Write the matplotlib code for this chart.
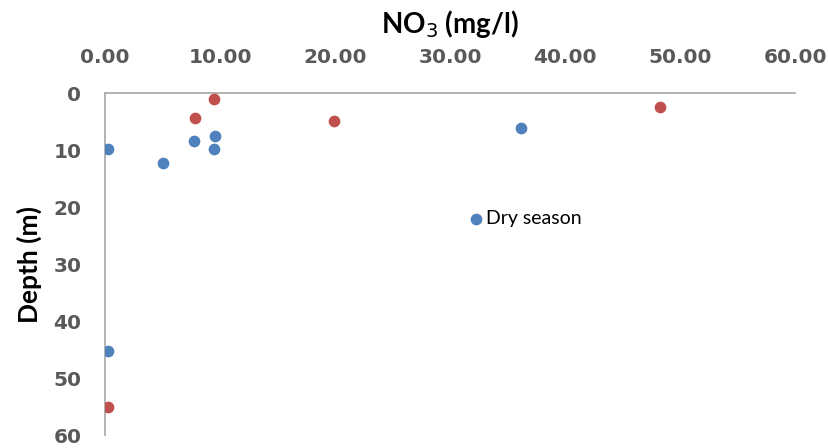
import matplotlib
matplotlib.use("Agg")
import matplotlib.pyplot as plt
from matplotlib.ticker import FormatStrFormatter

# dry season samples (blue)
dry_no3 = [0.3, 5.0, 7.7, 9.6, 9.5, 36.2, 32.3, 0.3]
dry_depth = [9.8, 12.3, 8.4, 7.5, 9.8, 6.1, 22.1, 45.3]

# wet season samples (red)
wet_no3 = [9.5, 7.8, 19.9, 48.3, 0.3]
wet_depth = [1.1, 4.4, 4.9, 2.5, 55.1]

x_ticks = [0, 10, 20, 30, 40, 50, 60]
y_ticks = [0, 10, 20, 30, 40, 50, 60]

blue = '#4F81BD'
red = '#C0504D'
grey = '#595959'

fig = plt.figure(figsize=(8.29, 4.48), dpi=100)
ax = fig.add_axes([0.1267, 0.029, 0.8323, 0.7634])

ax.scatter(dry_no3, dry_depth, s=55, color=blue, zorder=3, label='Dry season')
ax.scatter(wet_no3, wet_depth, s=55, color=red, zorder=3, label='Wet season')

# data label on one dry season point
ax.annotate('Dry season', (dry_no3[6], dry_depth[6]), xytext=(7, 0),
            textcoords='offset points', va='center', ha='left',
            fontsize=14, family='Lato', color='black')

ax.set_xlim(0, 60)
ax.set_ylim(60, 0)
ax.set_xticks(x_ticks)
ax.set_yticks(y_ticks)
ax.xaxis.set_major_formatter(FormatStrFormatter('%.2f'))
ax.xaxis.tick_top()
ax.xaxis.set_label_position('top')

ax.tick_params(axis='x', length=0, pad=19, labelsize=14.5, labelcolor=grey)
ax.tick_params(axis='y', length=0, pad=17, labelsize=14.5, labelcolor=grey)
for lab in ax.get_xticklabels() + ax.get_yticklabels():
    lab.set_fontweight('bold')

ax.set_xlabel('NO$_3$ (mg/l)', fontsize=20, family='Lato', fontweight='bold')
ax.xaxis.set_label_coords(0.5, 1.175)
ax.set_ylabel('Depth (m)', fontsize=19, family='Lato', fontweight='bold',
              labelpad=8)

for side in ['right', 'bottom']:
    ax.spines[side].set_visible(False)
for side in ['top', 'left']:
    ax.spines[side].set_color('#A6A6A6')
    ax.spines[side].set_linewidth(1.2)

fig.savefig('out.png', dpi=100)
